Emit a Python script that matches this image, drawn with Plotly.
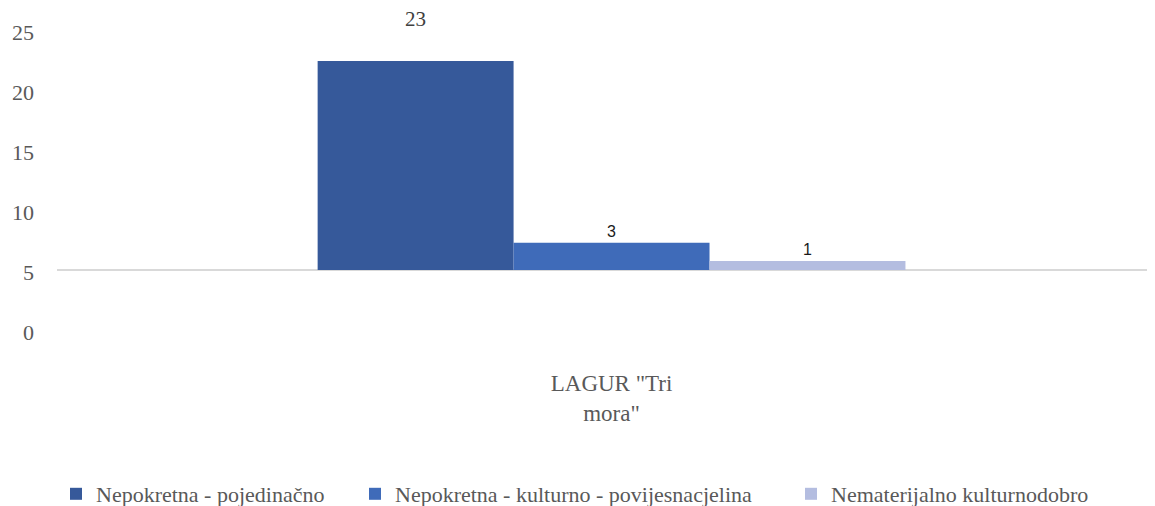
import plotly.graph_objects as go

categories = ['LAGUR "Tri<br>mora"']
series_names = [
    "Nepokretna - pojedinačno",
    "Nepokretna - kulturno - povijesnacjelina",
    "Nematerijalno kulturnodobro",
]
series_values = [[23], [3], [1]]
series_colors = ["#36599a", "#3f6bb9", "#b4bde0"]
tick_values = [0, 5, 10, 15, 20, 25]

SERIF = "Liberation Serif"
SANS = "Liberation Sans"
GREY = "#595959"

fig = go.Figure()

label_styles = [
    dict(template="%{y}<br>\u00a0", font=dict(family=SERIF, size=21, color="#404040")),
    dict(template="%{y}", font=dict(family=SANS, size=16, color="#1a1a1a")),
    dict(template="%{y}", font=dict(family=SANS, size=16, color="#1a1a1a")),
]
legend_ids = ["legend", "legend2", "legend3"]

for name, vals, col, ls, lg in zip(series_names, series_values, series_colors, label_styles, legend_ids):
    fig.add_trace(go.Bar(
        x=categories, y=vals, name=name,
        marker=dict(color=col, line=dict(width=0)),
        texttemplate=ls["template"], textposition="outside",
        textfont=ls["font"], cliponaxis=False,
        legend=lg, hoverinfo="skip",
    ))

# invisible trace carrying the value-axis labels (drawn on their own scale)
fig.add_trace(go.Scatter(
    x=categories, y=[tick_values[0]], yaxis="y2", mode="markers",
    marker=dict(opacity=0), showlegend=False, hoverinfo="skip",
))

def leg(x):
    return dict(orientation="h", yanchor="middle", xanchor="left",
                xref="container", yref="container", x=x, y=1 - 486 / 498,
                bgcolor="rgba(0,0,0,0)",
                font=dict(family=SERIF, size=22, color=GREY))

fig.update_layout(
    width=1147, height=498,
    margin=dict(l=49, r=0, t=2, b=161, autoexpand=False),
    paper_bgcolor="white", plot_bgcolor="white",
    barmode="group", bargap=0.47, bargroupgap=0,
    xaxis=dict(range=[-0.5, 0.49], showgrid=False, zeroline=False, showline=False,
               ticks="", ticklabelstandoff=22,
               tickfont=dict(family=SERIF, size=23, color=GREY)),
    yaxis=dict(range=[-8.25, 28.61], showgrid=False, showticklabels=False,
               zeroline=True, zerolinecolor="#d9d9d9", zerolinewidth=1.5,
               showline=False, ticks=""),
    yaxis2=dict(range=[-1.085, 26.88], overlaying="y", side="left",
                tickvals=tick_values, showgrid=False, zeroline=False,
                showline=False, ticks="", ticklabelstandoff=22,
                tickfont=dict(family=SERIF, size=22, color=GREY)),
    legend=leg(48 / 1147),
    legend2=leg(347 / 1147),
    legend3=leg(783 / 1147),
    showlegend=True,
)

fig.write_html("out.html")
